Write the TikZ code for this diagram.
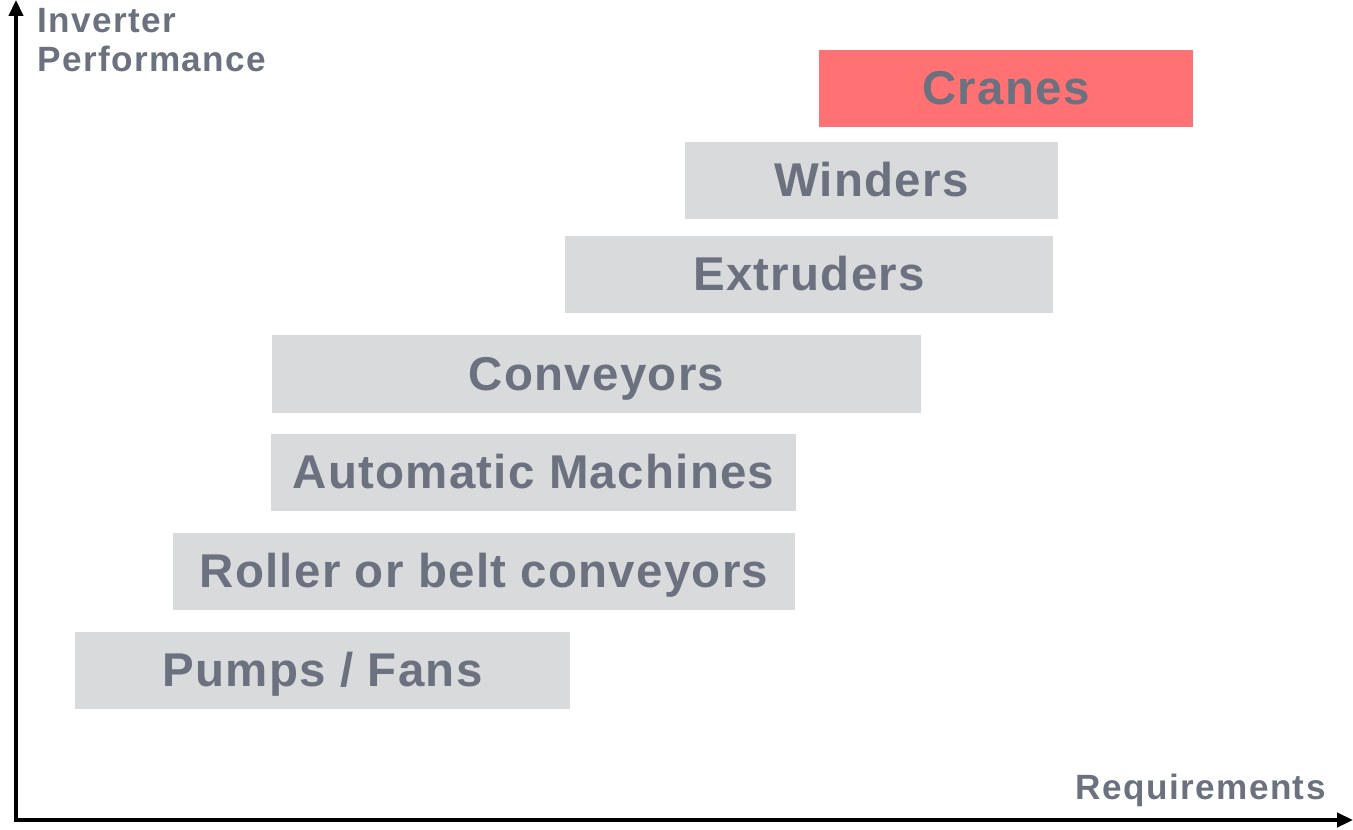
\documentclass[tikz,border=0pt]{standalone}
\usepackage{fontspec}
\setmainfont{Liberation Sans}
\usepackage{tikz}
\usetikzlibrary{arrows.meta}

\definecolor{labelgrey}{HTML}{6C7180}
\definecolor{bargrey}{HTML}{D9DADC}
\definecolor{barred}{HTML}{FF7172}

\begin{document}
\begin{tikzpicture}[x=0.02cm,y=-0.02cm,
    bar/.style={fill=bargrey,inner sep=0pt,minimum height=1.55cm,
      text height=0.64cm,text depth=0pt,text=labelgrey,
      font=\fontsize{27}{32}\selectfont\bfseries\addfontfeature{LetterSpace=2.7}},
    axislabel/.style={text=labelgrey,inner sep=0pt,
      font=\fontsize{20}{21}\selectfont\bfseries\addfontfeature{LetterSpace=4}}]
  \useasboundingbox (0,0) rectangle (1353,829);
  % axes
  \coordinate (origin) at (16,820);
  \coordinate (ytip) at (16,0);
  \coordinate (xtip) at (1353,820);
  \draw[line width=2pt,{Triangle[length=9pt,width=8pt]}-{Triangle[length=9pt,width=8pt]}]
    (ytip) -- (origin) -- (xtip);
  \node[axislabel,anchor=north west,align=left] (ylabel) at (37,8)
    {Inverter\\[1pt]Performance};
  \node[axislabel,anchor=base east] (xlabel) at (1326,799) {Requirements};
  % application bars, lowest to highest
  \node[bar,minimum width=9.9cm] (pumps) at (322.5,670.5) {Pumps / Fans};
  \node[bar,minimum width=12.44cm] (roller) at (484,571.5) {Roller or belt conveyors};
  \node[bar,minimum width=10.5cm] (machines) at (533.5,472.5) {Automatic Machines};
  \node[bar,minimum width=12.98cm] (conveyors) at (596.5,374) {Conveyors};
  \node[bar,minimum width=9.76cm] (extruders) at (809,274.5) {Extruders};
  \node[bar,minimum width=7.46cm] (winders) at (871.5,180.5) {Winders};
  \node[bar,fill=barred,minimum width=7.48cm] (cranes) at (1006,88.5) {Cranes};
\end{tikzpicture}
\end{document}
